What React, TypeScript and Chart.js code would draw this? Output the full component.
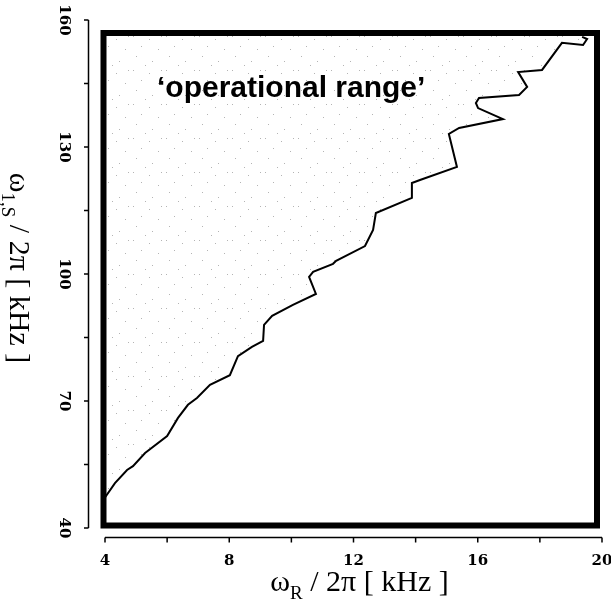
import React, { useEffect, useRef } from "react";
import { Chart, registerables } from "chart.js";

Chart.register(...registerables);

// Boundary of the operational range (omega_R / 2pi in kHz vs omega_1,S / 2pi in kHz)
const boundaryX: number[] = [
  4.0, 4.32, 4.71, 4.9, 5.29, 6.0, 6.35, 6.67, 6.96, 7.38, 8.02, 8.28, 8.73, 9.09,
  9.12, 9.38, 10.05, 10.79, 10.57, 10.7, 11.34, 11.44, 12.37, 12.63, 12.72, 13.88,
  13.88, 14.14, 15.33, 15.07, 15.4, 16.81, 16.01, 15.94, 16.04, 17.33, 17.59, 17.3,
  18.07, 18.71, 19.39, 19.52, 19.36,
];
const boundaryY: number[] = [
  47.2, 50.6, 53.7, 54.6, 57.7, 61.7, 66.0, 69.1, 70.7, 73.8, 76.1, 80.6, 82.8, 84.2,
  88.0, 90.1, 92.7, 95.3, 99.3, 100.5, 102.4, 103.1, 106.6, 110.4, 114.4, 118.0,
  121.5, 122.2, 125.3, 133.1, 134.5, 136.6, 139.2, 140.4, 141.6, 142.3, 144.2, 147.7,
  148.2, 154.6, 154.1, 155.5, 156.0,
];

const xTickValues: number[] = [4, 6, 8, 10, 12, 14, 16, 18, 20];
const xTickLabels: number[] = [4, 8, 12, 16, 20];
const yTickValues: number[] = [40, 55, 70, 85, 100, 115, 130, 145, 160];
const yTickLabels: number[] = [40, 70, 100, 130, 160];
const regionLabel = "\u2018operational range\u2019";
const fillTopValue = 157;

// fixed stipple texture offsets (styling only)
const stippleDots: [number, number][] = [
  [1, 2], [17, 5], [9, 12], [26, 15], [4, 22], [20, 27], [13, 31], [29, 2],
];

function makePattern(): CanvasPattern | string {
  const c = document.createElement("canvas");
  c.width = 33;
  c.height = 34;
  const g = c.getContext("2d");
  if (!g) return "rgba(0,0,0,0.03)";
  g.fillStyle = "#b4b4b4";
  for (const [dx, dy] of stippleDots) g.fillRect(dx, dy, 1, 1);
  const p = g.createPattern(c, "repeat");
  return p || "rgba(0,0,0,0.03)";
}

function drawSubText(
  ctx: CanvasRenderingContext2D,
  parts: { t: string; sub?: boolean }[],
  size: number,
  family: string
) {
  const subSize = Math.round(size * 0.62);
  let total = 0;
  for (const p of parts) {
    ctx.font = `${p.sub ? subSize : size}px ${family}`;
    total += ctx.measureText(p.t).width;
  }
  let x = -total / 2;
  ctx.textAlign = "left";
  ctx.textBaseline = "alphabetic";
  for (const p of parts) {
    ctx.font = `${p.sub ? subSize : size}px ${family}`;
    ctx.fillText(p.t, x, p.sub ? size * 0.28 : 0);
    x += ctx.measureText(p.t).width;
  }
}

const decorPlugin = {
  id: "decor",
  afterDatasetsDraw(chart: any) {
    const ctx: CanvasRenderingContext2D = chart.ctx;
    const xs = chart.scales.x;
    const ys = chart.scales.y;
    const area = chart.chartArea;
    ctx.save();
    ctx.strokeStyle = "#000";
    ctx.fillStyle = "#000";

    // thick frame
    ctx.lineWidth = 6;
    ctx.strokeRect(area.left - 1.5, area.top + 13, area.right - 5 - (area.left - 1.5), area.bottom - 2.5 - (area.top + 13));

    // y axis line and ticks
    const yAxisX = area.left - 16.5;
    ctx.lineWidth = 1.5;
    ctx.beginPath();
    ctx.moveTo(yAxisX, ys.getPixelForValue(160));
    ctx.lineTo(yAxisX, ys.getPixelForValue(40));
    for (const v of yTickValues) {
      const py = ys.getPixelForValue(v);
      ctx.moveTo(yAxisX, py);
      ctx.lineTo(yAxisX - 4.5, py);
    }
    ctx.stroke();

    // x axis line and ticks
    const xAxisY = area.bottom + 9.5;
    ctx.beginPath();
    ctx.moveTo(xs.getPixelForValue(4), xAxisY);
    ctx.lineTo(xs.getPixelForValue(20), xAxisY);
    for (const v of xTickValues) {
      const px = xs.getPixelForValue(v);
      ctx.moveTo(px, xAxisY);
      ctx.lineTo(px, xAxisY + 5);
    }
    ctx.stroke();

    // tick labels
    ctx.font = "bold 15px 'DejaVu Serif'";
    ctx.textAlign = "center";
    ctx.textBaseline = "middle";
    for (const v of xTickLabels) {
      ctx.fillText(String(v), xs.getPixelForValue(v), area.bottom + 33);
    }
    for (const v of yTickLabels) {
      ctx.save();
      ctx.translate(area.left - 41, ys.getPixelForValue(v));
      ctx.rotate(Math.PI / 2);
      ctx.fillText(String(v), 0, 0);
      ctx.restore();
    }

    // axis titles
    const serif = "'Liberation Serif'";
    ctx.save();
    ctx.translate((area.left + area.right) / 2 + 6, area.bottom + 63);
    drawSubText(
      ctx,
      [{ t: "\u03c9" }, { t: "R", sub: true }, { t: " / 2\u03c0 [ kHz ]" }],
      30,
      serif
    );
    ctx.restore();

    ctx.save();
    ctx.translate(area.left - 95, (area.top + area.bottom) / 2 - 6);
    ctx.rotate(Math.PI / 2);
    drawSubText(
      ctx,
      [{ t: "\u03c9" }, { t: "1,S", sub: true }, { t: " / 2\u03c0 [ kHz ]" }],
      30,
      serif
    );
    ctx.restore();

    // region label
    ctx.font = "bold 30px 'Liberation Sans'";
    ctx.textAlign = "left";
    ctx.textBaseline = "alphabetic";
    ctx.fillText(regionLabel, area.left + 52, area.top + 77);

    ctx.restore();
  },
};

export default function App() {
  const ref = useRef<HTMLCanvasElement | null>(null);
  useEffect(() => {
    if (!ref.current) return;
    const data = boundaryX.map((x, i) => ({ x, y: boundaryY[i] }));
    const chart = new Chart(ref.current, {
      type: "scatter",
      data: {
        datasets: [
          {
            data,
            showLine: true,
            borderColor: "#000",
            borderWidth: 2,
            pointRadius: 0,
            tension: 0,
            fill: { value: fillTopValue },
            backgroundColor: makePattern() as any,
          } as any,
        ],
      },
      options: {
        animation: false,
        responsive: true,
        maintainAspectRatio: false,
        layout: { padding: { left: 105, right: 9, top: 20, bottom: 84 } },
        plugins: { legend: { display: false }, tooltip: { enabled: false } },
        scales: {
          x: { type: "linear", min: 4, max: 20, display: false },
          y: { type: "linear", min: 40, max: 160, display: false },
        },
      },
      plugins: [decorPlugin],
    });
    return () => chart.destroy();
  }, []);
  return (
    <div style={{ position: "absolute", left: 0, top: 0, width: 611, height: 612, background: "#fff" }}>
      <canvas ref={ref} />
    </div>
  );
}
